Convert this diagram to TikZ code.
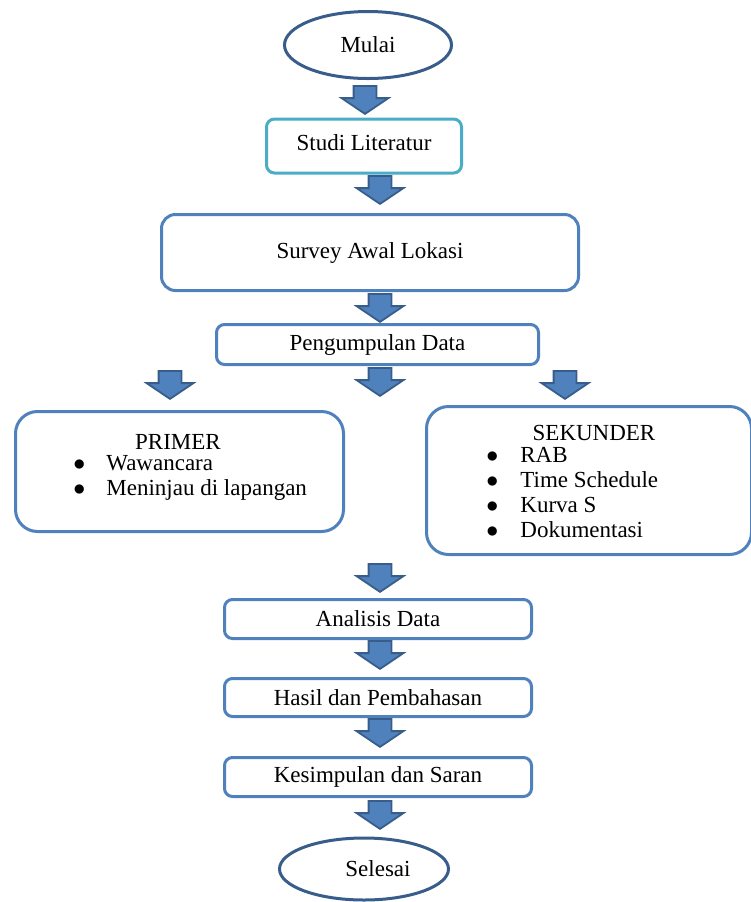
\documentclass[tikz,border=0pt]{standalone}
\usepackage{fontspec}
\setmainfont{Liberation Serif}
\usetikzlibrary{shapes.geometric,shapes.arrows,positioning}
\definecolor{BiruGaris}{RGB}{79,129,189}
\definecolor{BiruTua}{RGB}{56,93,138}
\definecolor{BiruAqua}{RGB}{75,172,198}
\newcommand{\hurufdasar}{\fontsize{11.5}{12.5}\selectfont}
\newcommand{\titik}{$\bullet$}
\tikzset{
  kotak/.style={draw=BiruGaris, line width=1.5pt, fill=white, rounded corners=4pt,
                align=center, inner sep=0pt, font=\hurufdasar},
  kotakaqua/.style={kotak, draw=BiruAqua},
  kotakbesar/.style={kotak, rounded corners=11pt},
  elips/.style={ellipse, draw=BiruTua, line width=1.5pt, fill=white, inner sep=0pt,
                font=\hurufdasar},
  judul/.style={font=\hurufdasar, inner sep=0pt},
  daftar/.style={font=\hurufdasar, inner sep=0pt, anchor=west},
  panah/.style={single arrow, draw=BiruTua, fill=BiruGaris, line width=0.9pt,
                rotate=-90, anchor=tail, minimum height=14pt, inner xsep=0pt,
                inner ysep=5.25pt, single arrow head extend=6pt,
                single arrow tip angle=112, single arrow head indent=0pt},
}

\begin{document}
\begin{tikzpicture}[x=0.5pt, y=-0.5pt]
  \useasboundingbox (0,0) rectangle (751,902);

  % Alur atas
  \node[elips, minimum width=83.5pt, minimum height=33.5pt] (mulai) at (368,45) {Mulai};
  \node[kotakaqua, minimum width=97.5pt, minimum height=27pt] (studi) at (364,146)
    {\raisebox{3pt}{Studi Literatur}};
  \node[kotak, rounded corners=7pt, minimum width=208.5pt, minimum height=38pt] (survey)
    at (370,252.5) {Survey Awal Lokasi};
  \node[kotak, minimum width=161pt, minimum height=20pt] (kumpul) at (377.5,344.5) {Pengumpulan Data};

  % Jenis data
  \node[kotakbesar, minimum width=164pt, minimum height=60pt] (primer) at (179.5,471.5) {};
  \node[kotakbesar, minimum width=162.5pt, minimum height=74pt] (sekunder) at (589,480.5) {};
  \node[judul] (judulPrimer) at (178,442) {PRIMER};
  \node[judul] (judulSekunder) at (594,433) {SEKUNDER};
  \node[daftar] (isiPrimer) at (73,477.5)
    {\begin{tabular}{@{}l@{\hspace{10.5pt}}l@{}}
       \titik & Wawancara\\
       \titik & Meninjau di lapangan
     \end{tabular}};
  \node[daftar] (isiSekunder) at (486,494.5)
    {\begin{tabular}{@{}l@{\hspace{11pt}}l@{}}
       \titik & RAB\\
       \titik & Time Schedule\\
       \titik & Kurva S\\
       \titik & Dokumentasi
     \end{tabular}};

  % Alur bawah
  \node[kotak, minimum width=153.5pt, minimum height=19.5pt] (analisis) at (378,619) {Analisis Data};
  \node[kotak, minimum width=153.5pt, minimum height=19pt] (hasil) at (378,697.5) {Hasil dan Pembahasan};
  \node[kotak, minimum width=153.5pt, minimum height=19.5pt] (simpul) at (378,777) {Kesimpulan dan Saran};
  \node[elips, minimum width=84.5pt, minimum height=31pt] (selesai) at (364,869)
    {\hspace*{14pt}Selesai};

  % Panah blok
  \node[panah] (p1) at (365,85) {};
  \node[panah] (p2) at (380,175) {};
  \node[panah] (p3) at (380,293) {};
  \node[panah] (p4kiri) at (170,370) {};
  \node[panah] (p4tengah) at (380,367) {};
  \node[panah] (p4kanan) at (565,370) {};
  \node[panah] (p5) at (380,563) {};
  \node[panah] (p6) at (380,640) {};
  \node[panah] (p7) at (380,718) {};
  \node[panah] (p8) at (380,800) {};
\end{tikzpicture}
\end{document}
